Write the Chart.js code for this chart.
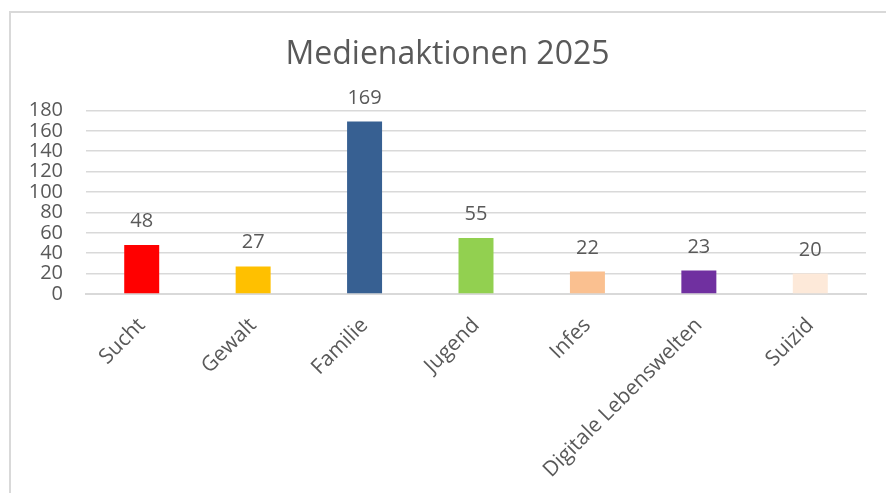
<!DOCTYPE html>
<html lang="de">
<head>
    <meta charset="UTF-8">
    <title>Medienaktionen 2025</title>
    <script src="https://cdn.jsdelivr.net/npm/chart.js"></script>
    <style>
        html, body { margin: 0; padding: 0; background: #fff; overflow: hidden; }
        .rahmen {
            position: absolute; left: 9px; top: 11px; width: 1000px; height: 600px;
            border-top: 2px solid #d9d9d9; border-left: 2px solid #d9d9d9;
        }
        .diagramm { position: absolute; left: 0; top: 0; width: 886px; height: 493px; }
    </style>
</head>
<body>
    <div class="rahmen"></div>
    <div class="diagramm"><canvas id="graphique" width="886" height="493"></canvas></div>

    <script>
        // Daten
        const kategorien = ['Sucht', 'Gewalt', 'Familie', 'Jugend', 'Infes', 'Digitale Lebenswelten', 'Suizid'];
        const anzahl = [48, 27, 169, 55, 22, 23, 20];
        const farben = ['#ff0000', '#ffc000', '#376092', '#92d050', '#fac090', '#7030a0', '#fde9d9'];
        const yTicks = [0, 20, 40, 60, 80, 100, 120, 140, 160, 180];

        const textFarbe = '#595959';
        const schrift = '"Open Sans", sans-serif';

        // Werte über den Balken
        const wertePlugin = {
            id: 'werte',
            afterDatasetsDraw(chart) {
                const ctx = chart.ctx;
                const meta = chart.getDatasetMeta(0);
                ctx.save();
                ctx.fillStyle = textFarbe;
                ctx.font = '20px ' + schrift;
                ctx.textAlign = 'center';
                ctx.textBaseline = 'alphabetic';
                meta.data.forEach((bar, i) => {
                    ctx.fillText(String(anzahl[i]), bar.x, bar.y - 18);
                });
                ctx.restore();
            }
        };

        const ctx = document.getElementById('graphique').getContext('2d');
        new Chart(ctx, {
            type: 'bar',
            data: {
                labels: kategorien,
                datasets: [{
                    data: anzahl,
                    backgroundColor: farben,
                    borderWidth: 0,
                    categoryPercentage: 1,
                    barPercentage: 0.314
                }]
            },
            options: {
                responsive: false,
                animation: false,
                layout: { padding: { left: 29, right: 20, top: 0, bottom: 0 } },
                plugins: {
                    legend: { display: false },
                    tooltip: { enabled: false },
                    title: {
                        display: true,
                        text: 'Medienaktionen 2025',
                        color: textFarbe,
                        font: { family: schrift, size: 32, weight: 'normal', lineHeight: 1.2 },
                        padding: { top: 36, bottom: 36 }
                    }
                },
                scales: {
                    x: {
                        grid: { display: false },
                        border: { display: true, color: '#d9d9d9', width: 2 },
                        ticks: {
                            color: textFarbe,
                            font: { family: schrift, size: 21 },
                            maxRotation: 45,
                            minRotation: 45,
                            autoSkip: false,
                            padding: 11
                        },
                        afterFit(scale) { scale.height = 199; }
                    },
                    y: {
                        min: 0,
                        max: 180,
                        afterBuildTicks(scale) { scale.ticks = yTicks.map(v => ({ value: v })); },
                        grid: { color: '#d9d9d9', lineWidth: 1.5, drawTicks: false },
                        border: { display: false },
                        ticks: {
                            color: textFarbe,
                            font: { family: schrift, size: 20, lineHeight: 1 },
                            padding: 23,
                            autoSkip: false
                        },
                        afterFit(scale) { scale.width = 57; }
                    }
                }
            },
            plugins: [wertePlugin]
        });
    </script>
</body>
</html>
